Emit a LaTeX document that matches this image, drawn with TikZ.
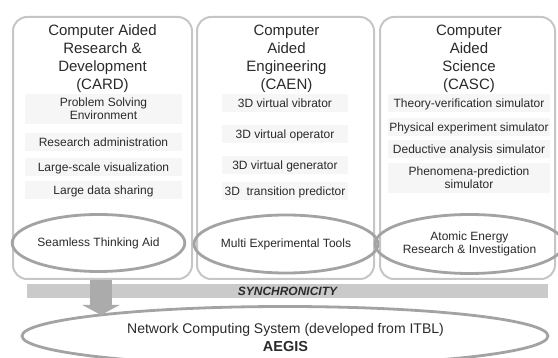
\documentclass[tikz,border=0pt]{standalone}
\usepackage{fontspec}
\setmainfont{Liberation Sans}
\usetikzlibrary{shapes.geometric,arrows.meta}
\definecolor{panelline}{HTML}{C6C6C6}
\definecolor{ovalline}{HTML}{A3A3A3}
\definecolor{itemfill}{HTML}{F6F6F6}
\definecolor{barfill}{HTML}{CACACA}
\definecolor{arrowfill}{HTML}{ABABAB}
\definecolor{ink}{HTML}{2A2A2A}
\begin{document}
\begin{tikzpicture}[x=1pt,y=-1pt,
  panel/.style={draw=panelline, line width=2pt, rounded corners=14pt, fill=white, inner sep=0pt},
  title/.style={align=center, font=\fontsize{15}{18}\selectfont, text=ink, inner sep=0pt},
  item/.style={fill=itemfill, inner sep=0pt, font=\fontsize{12}{13}\selectfont, text=ink,
    text height=8.6pt, text depth=0pt, minimum height=18pt},
  itemtwo/.style={fill=itemfill, inner sep=0pt, align=center, font=\fontsize{12}{13}\selectfont,
    text=ink, minimum height=30pt},
  oval/.style={ellipse, draw=ovalline, line width=2.8pt, inner sep=0pt, align=center,
    font=\fontsize{12}{13}\selectfont, text=ink},
  syncbar/.style={fill=barfill, inner sep=0pt, minimum width=521pt, minimum height=14pt,
    font=\fontsize{12}{13}\selectfont\bfseries\itshape, text=ink},
  bigarrow/.style={draw=arrowfill, line width=22pt, -{Triangle[width=37pt,length=10pt]}},
  basefont/.style={font=\fontsize{14}{16}\selectfont, text=ink}
]
\useasboundingbox (0,0) rectangle (558,358);
\clip (0,0) rectangle (558,358);

% three columns
\node[panel, minimum width=179pt, minimum height=262pt] (card) at (102.5,148) {};
\node[panel, minimum width=177pt, minimum height=262pt] (caen) at (285.5,148) {};
\node[panel, minimum width=175pt, minimum height=262pt] (casc) at (467.5,148) {};

% column headings
\node[title] (cardt) at (102.5,58.5) {Computer Aided\\Research \&\\Development\\(CARD)};
\node[title] (caent) at (286.5,58.5) {Computer\\Aided\\Engineering\\(CAEN)};
\node[title] (casct) at (469,58.5) {Computer\\Aided\\Science\\(CASC)};

% CARD items
\node[itemtwo, minimum width=157pt] (c1) at (103.5,109) {Problem Solving\\Environment};
\node[item, minimum width=157pt] (c2) at (103.5,142) {Research administration};
\node[item, minimum width=157pt] (c3) at (103.5,167) {Large-scale visualization};
\node[item, minimum width=157pt] (c4) at (103.5,190) {Large data sharing};

% CAEN items
\node[item, minimum width=126pt] (e1) at (285,103) {3D virtual vibrator};
\node[item, minimum width=126pt] (e2) at (285,134) {3D virtual operator};
\node[item, minimum width=126pt] (e3) at (285,165) {3D virtual generator};
\node[item, minimum width=126pt] (e4) at (285,191) {3D\ \ transition predictor};

% CASC items
\node[item, minimum width=162pt] (s1) at (469,103) {Theory-verification simulator};
\node[item, minimum width=162pt] (s2) at (469,127) {Physical experiment simulator};
\node[item, minimum width=162pt] (s3) at (469,149) {Deductive analysis simulator};
\node[itemtwo, minimum width=162pt] (s4) at (469,178) {Phenomena-prediction\\simulator};

% ovals at the foot of each column
\node[oval, minimum width=166pt, minimum height=57pt] (seam) at (98.5,243) {Seamless Thinking Aid};
\node[oval, minimum width=160pt, minimum height=58pt] (multi) at (286,244) {Multi Experimental Tools};
\node[oval, minimum width=154pt, minimum height=59pt] (atom) at (469.5,244) {Atomic Energy\\Research \& Investigation};

% synchronicity band
\node[syncbar] (sync) at (287.5,291) {SYNCHRONICITY};

% base system
\node[ellipse, draw=ovalline, line width=2.8pt, minimum width=526pt, minimum height=59pt,
  inner sep=0pt] (aegis) at (285,336) {};
\node[basefont] (aegist1) at (285.5,330) {Network Computing System (developed from ITBL)};
\node[basefont, font=\fontsize{14.5}{16}\selectfont\bfseries] (aegist2) at (285.5,346.5) {AEGIS};

% link from CARD down to the base system
\coordinate (arrowtip) at (101,315);
\draw[bigarrow] (card.south -| arrowtip) -- (arrowtip);
\end{tikzpicture}
\end{document}
